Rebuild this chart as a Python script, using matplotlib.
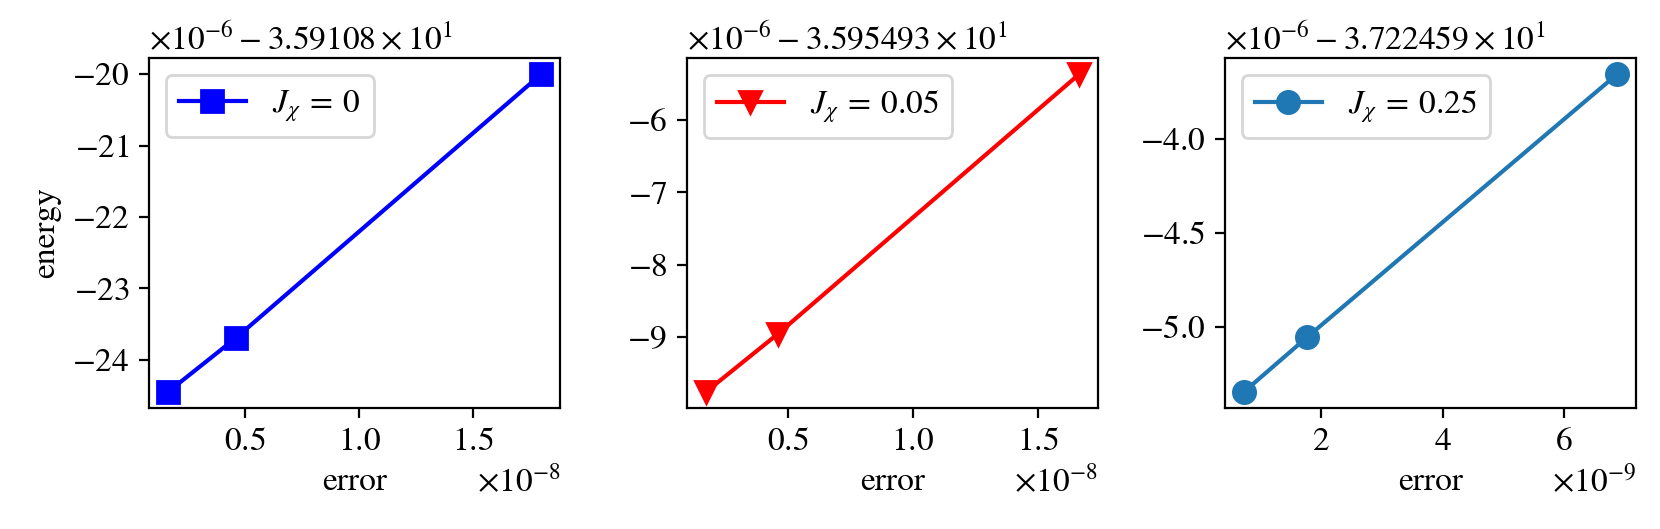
import math
import matplotlib
matplotlib.use('Agg')
import matplotlib.pyplot as plt
import matplotlib.ticker as ticker
import numpy as np

matplotlib.rcParams['font.family'] = 'STIXGeneral'
matplotlib.rcParams['mathtext.fontset'] = 'stix'
matplotlib.rcParams['font.size'] = 12
matplotlib.rcParams['axes.formatter.use_mathtext'] = True

# error values for each coupling
err_0 = np.array([0.16, 0.46, 1.80]) * 1e-8
err_005 = np.array([0.17, 0.46, 1.667]) * 1e-8
err_025 = np.array([0.72, 1.765, 6.877]) * 1e-9

# energies, given as (offset, deviations in 1e-6)
e0_base = -35.9108
e0_dev = np.array([-24.45, -23.69, -20.00])
e005_base = -35.95493
e005_dev = np.array([-9.755, -8.95, -5.37])
e025_base = -37.22459
e025_dev = np.array([-5.344, -5.053, -3.658])

energy_0 = e0_base + e0_dev * 1e-6
energy_005 = e005_base + e005_dev * 1e-6
energy_025 = e025_base + e025_dev * 1e-6


class SpacedFormatter(ticker.ScalarFormatter):
    # same offset text as ScalarFormatter, but with spaces round the operators
    def get_offset(self):
        if len(self.locs) == 0:
            return ''
        s = ''
        if self.orderOfMagnitude:
            s += r'\times\mathdefault{10^{%d}}' % self.orderOfMagnitude
        if self.offset:
            off = self.offset
            e = math.floor(math.log10(abs(off)))
            m = round(abs(off) / 10**e, 10)
            sign = '-' if off < 0 else '+'
            mant = ('%d' if m % 1 == 0 else '%1.10g') % m
            s += r'\:%s\:\mathdefault{%s}' % (sign, mant)
            if e != 0:
                s += r'\:\times\:\mathdefault{10^{%d}}' % e
        return '$' + s + '$' if s else ''


fig, ax = plt.subplots(1, 3, figsize=(8.3, 2.645), dpi=200)
fig.subplots_adjust(left=0.0898, right=0.9855, top=0.890, bottom=0.2287, wspace=0.309)

ax[0].plot(err_0, energy_0, color='blue', marker='s', markersize=8, label=r'$J_\chi \:=\: 0$')
ax[1].plot(err_005, energy_005, color='red', marker='v', markersize=8, label=r'$J_\chi \:=\: 0.05$')
ax[2].plot(err_025, energy_025, color='#1f77b4', marker='o', markersize=8, label=r'$J_\chi \:=\: 0.25$')

ax[0].set_ylabel('energy')
for a in ax:
    a.yaxis.set_major_formatter(SpacedFormatter())
    a.set_xlabel('error')
    a.legend(loc='upper left')

fig.savefig('out.png', dpi=200)
